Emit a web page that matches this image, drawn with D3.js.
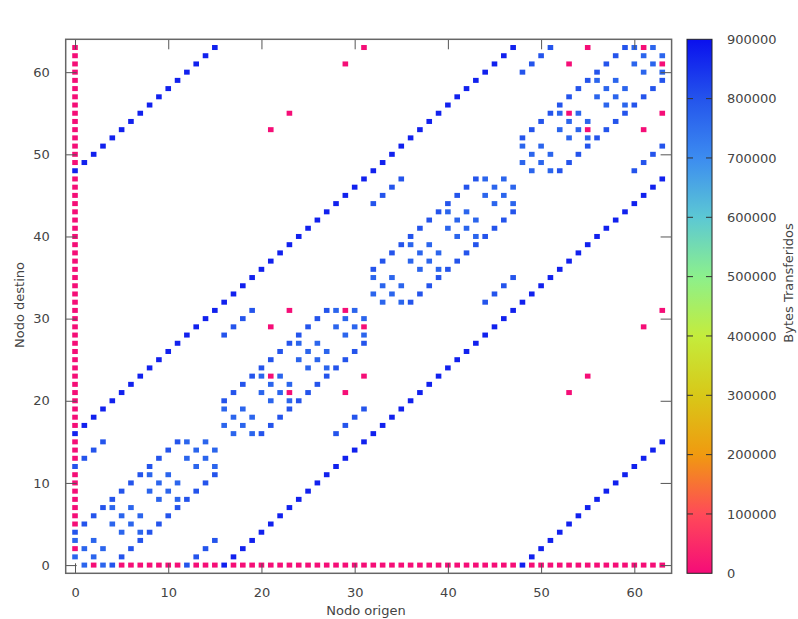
<!DOCTYPE html>
<html>
<head>
<meta charset="utf-8">
<script src="https://cdn.jsdelivr.net/npm/d3@7"></script>
<style>
body { margin: 0; background: #fff; }
text { font-family: "DejaVu Sans", sans-serif; font-size: 13px; fill: #444; }
</style>
</head>
<body>
<svg id="chart" width="798" height="619"></svg>
<script>
// nodos origen 0..63 (toro 4x4x4)
var nodes = [0,1,2,3,4,5,6,7,8,9,10,11,12,13,14,15,16,17,18,19,20,21,22,23,24,25,26,27,28,29,30,31,
             32,33,34,35,36,37,38,39,40,41,42,43,44,45,46,47,48,49,50,51,52,53,54,55,56,57,58,59,60,61,62,63];

// vecino destino de cada nodo en cada direccion
var destXp = [1,2,3,0, 5,6,7,4, 9,10,11,8, 13,14,15,12, 17,18,19,16, 21,22,23,20, 25,26,27,24, 29,30,31,28,
              33,34,35,32, 37,38,39,36, 41,42,43,40, 45,46,47,44, 49,50,51,48, 53,54,55,52, 57,58,59,56, 61,62,63,60];
var destXm = [3,0,1,2, 7,4,5,6, 11,8,9,10, 15,12,13,14, 19,16,17,18, 23,20,21,22, 27,24,25,26, 31,28,29,30,
              35,32,33,34, 39,36,37,38, 43,40,41,42, 47,44,45,46, 51,48,49,50, 55,52,53,54, 59,56,57,58, 63,60,61,62];
var destYp = [4,5,6,7, 8,9,10,11, 12,13,14,15, 0,1,2,3, 20,21,22,23, 24,25,26,27, 28,29,30,31, 16,17,18,19,
              36,37,38,39, 40,41,42,43, 44,45,46,47, 32,33,34,35, 52,53,54,55, 56,57,58,59, 60,61,62,63, 48,49,50,51];
var destYm = [12,13,14,15, 0,1,2,3, 4,5,6,7, 8,9,10,11, 28,29,30,31, 16,17,18,19, 20,21,22,23, 24,25,26,27,
              44,45,46,47, 32,33,34,35, 36,37,38,39, 40,41,42,43, 60,61,62,63, 48,49,50,51, 52,53,54,55, 56,57,58,59];
var destZp = [16,17,18,19,20,21,22,23,24,25,26,27,28,29,30,31,32,33,34,35,36,37,38,39,40,41,42,43,44,45,46,47,
              48,49,50,51,52,53,54,55,56,57,58,59,60,61,62,63,0,1,2,3,4,5,6,7,8,9,10,11,12,13,14,15];
var destZm = [48,49,50,51,52,53,54,55,56,57,58,59,60,61,62,63,0,1,2,3,4,5,6,7,8,9,10,11,12,13,14,15,
              16,17,18,19,20,21,22,23,24,25,26,27,28,29,30,31,32,33,34,35,36,37,38,39,40,41,42,43,44,45,46,47];

// bytes por direccion
var bytesX = 770000;
var bytesY = 800000;
var bytesZ = 875000;

// mensajes pequenos
var smallBytes = 3000;
var bcastDest = [2,5,6,7,8,9,10,11,13,14,15,17,18,19,20,21,22,23,24,25,26,27,28,29,30,31,32,33,34,35,36,37,38,39,
                 40,41,42,43,44,45,46,47,49,50,51,52,53,54,55,56,57,58,59,60,61,62,63];
var gatherOrig = [2,5,6,7,8,9,10,11,13,14,15,17,18,19,20,21,22,23,24,25,26,27,28,29,30,31,32,33,34,35,36,37,38,39,
                  40,41,42,43,44,45,46,47,49,50,51,52,53,54,55,56,57,58,59,60,61,62,63];
var extraOrig = [21,23,21,29,23,31,29,31, 53,55,53,61,55,63,61,63, 21,53,23,55,29,61,31,63];
var extraDest = [23,21,29,21,31,23,31,29, 55,53,61,53,63,55,63,61, 53,21,55,23,61,29,63,31];

// escala de color
var cbTicks = [0,100000,200000,300000,400000,500000,600000,700000,800000,900000];
var cbColors = ["#f50c78","#ff4a58","#f09a10","#d8c818","#c4ec3c","#8cf08c","#5cc8d4","#3c8cf0","#2454ec","#0a10ee"];

var L = 65.7, R = 671.6, T = 39.3, B = 573.3;

var svg = d3.select("#chart");
var x = d3.scaleLinear().domain([-1, 64]).range([L, R]);
var y = d3.scaleLinear().domain([-1, 64]).range([B, T]);
var color = d3.scaleLinear().domain(cbTicks).range(cbColors).clamp(true);

var cells = [];
nodes.forEach(function(n, i) {
  cells.push({o: n, d: destXp[i], v: bytesX});
  cells.push({o: n, d: destXm[i], v: bytesX});
  cells.push({o: n, d: destYp[i], v: bytesY});
  cells.push({o: n, d: destYm[i], v: bytesY});
  cells.push({o: n, d: destZp[i], v: bytesZ});
  cells.push({o: n, d: destZm[i], v: bytesZ});
});
bcastDest.forEach(function(d) { cells.push({o: 0, d: d, v: smallBytes}); });
gatherOrig.forEach(function(o) { cells.push({o: o, d: 0, v: smallBytes}); });
extraOrig.forEach(function(o, i) { cells.push({o: o, d: extraDest[i], v: smallBytes}); });

var sw = 5.6, sh = 5;
svg.append("g").selectAll("rect").data(cells).join("rect")
  .attr("x", function(d) { return x(d.o) - sw / 2; })
  .attr("y", function(d) { return y(d.d) - sh / 2; })
  .attr("width", sw).attr("height", sh)
  .attr("fill", function(d) { return color(d.v); });

// ejes
var ticks = [0,10,20,30,40,50,60];
svg.append("g").attr("transform", "translate(0," + B + ")")
  .call(d3.axisBottom(x).tickValues(ticks).tickSize(-10).tickPadding(14));
svg.append("g").attr("transform", "translate(" + L + ",0)")
  .call(d3.axisLeft(y).tickValues(ticks).tickSize(-11).tickPadding(16));
svg.append("g").attr("transform", "translate(0," + T + ")")
  .call(d3.axisTop(x).tickValues(ticks).tickSize(-10).tickFormat(""));
svg.append("g").attr("transform", "translate(" + R + ",0)")
  .call(d3.axisRight(y).tickValues(ticks).tickSize(-11).tickFormat(""));
svg.selectAll(".domain").remove();
svg.selectAll(".tick line").attr("stroke", "#555");
svg.selectAll(".tick text").style("font-family", "DejaVu Sans").style("font-size", "13px").attr("fill", "#444");

svg.append("rect").attr("x", L).attr("y", T).attr("width", R - L).attr("height", B - T)
  .attr("fill", "none").attr("stroke", "#666").attr("stroke-width", 1.5);

svg.append("text").attr("x", 366).attr("y", 615).attr("text-anchor", "middle").text("Nodo origen");
svg.append("text").attr("transform", "translate(24,305) rotate(-90)").attr("text-anchor", "middle").text("Nodo destino");

// barra de color
var cbL = 687, cbR = 712;
var cy = d3.scaleLinear().domain([0, 900000]).range([B, T]);
var grad = svg.append("defs").append("linearGradient").attr("id", "cbgrad")
  .attr("x1", 0).attr("y1", 1).attr("x2", 0).attr("y2", 0);
cbTicks.forEach(function(t, i) {
  grad.append("stop").attr("offset", t / 900000).attr("stop-color", cbColors[i]);
});
svg.append("rect").attr("x", cbL).attr("y", T).attr("width", cbR - cbL).attr("height", B - T)
  .attr("fill", "url(#cbgrad)").attr("stroke", "#222").attr("stroke-width", 1);
var gc = svg.append("g").attr("transform", "translate(" + cbR + ",0)")
  .call(d3.axisRight(cy).tickValues(cbTicks).tickSize(0).tickPadding(15).tickFormat(d3.format("d")));
gc.select(".domain").remove();
gc.selectAll(".tick text").style("font-family", "DejaVu Sans").style("font-size", "13px").attr("fill", "#444");
svg.append("g").selectAll("line").data(cbTicks.slice(1, -1)).join("line")
  .attr("x1", cbL).attr("x2", cbL + 6)
  .attr("y1", function(d) { return cy(d); }).attr("y2", function(d) { return cy(d); })
  .attr("stroke", "#333");
svg.append("g").selectAll("line").data(cbTicks.slice(1, -1)).join("line")
  .attr("x1", cbR - 6).attr("x2", cbR)
  .attr("y1", function(d) { return cy(d); }).attr("y2", function(d) { return cy(d); })
  .attr("stroke", "#333");
svg.append("text").attr("transform", "translate(793,283) rotate(-90)").attr("text-anchor", "middle")
  .text("Bytes Transferidos");
</script>
</body>
</html>
